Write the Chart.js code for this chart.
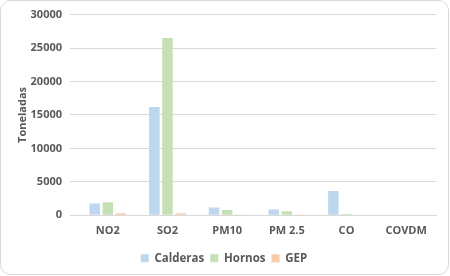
<!DOCTYPE html>
<html>
<head>
<meta charset="utf-8">
<script src="https://cdn.jsdelivr.net/npm/chart.js@4"></script>
<style>
  html, body { margin: 0; padding: 0; background: #fff; }
  #wrap { width: 450px; height: 276px; }
</style>
</head>
<body>
<div id="wrap"><canvas id="chart" width="450" height="276"></canvas></div>
<script>
// contaminantes
const labels = ['NO2', 'SO2', 'PM10', 'PM 2.5', 'CO', 'COVDM'];
const calderas = [1750, 16200, 1150, 850, 3650, 0];
const hornos = [1950, 26500, 800, 600, 200, 0];
const gep = [300, 300, 20, 20, 0, 0];
const yTicks = [0, 5000, 10000, 15000, 20000, 25000, 30000];

const textColor = '#595959';
const gridColor = '#d9d9d9';
const font = { family: 'Open Sans', size: 11, weight: 'bold' };

// marco redondeado
const frame = {
  id: 'frame',
  afterDraw(chart) {
    const ctx = chart.ctx;
    ctx.save();
    ctx.strokeStyle = gridColor;
    ctx.lineWidth = 1;
    ctx.beginPath();
    ctx.roundRect(0.5, 0.5, 448, 274, 10);
    ctx.stroke();
    ctx.restore();
  }
};

new Chart(document.getElementById('chart').getContext('2d'), {
  type: 'bar',
  data: {
    labels: labels,
    datasets: [
      { label: 'Calderas', data: calderas, backgroundColor: '#bdd7ee' },
      { label: 'Hornos', data: hornos, backgroundColor: '#c5e0b4' },
      { label: 'GEP', data: gep, backgroundColor: '#f8cbad' }
    ]
  },
  options: {
    responsive: false,
    animation: false,
    datasets: { bar: { categoryPercentage: 0.66, barPercentage: 0.8 } },
    layout: { padding: { left: 12, right: 14, top: 6, bottom: 2 } },
    plugins: {
      tooltip: { enabled: false },
      legend: {
        position: 'bottom',
        labels: { color: textColor, font: { family: 'Open Sans', size: 11.5, weight: 'bold' }, boxWidth: 8, boxHeight: 8, padding: 6 }
      }
    },
    scales: {
      x: {
        grid: { display: false, tickLength: 0 },
        border: { color: gridColor },
        ticks: { color: textColor, font: font, padding: 9 }
      },
      y: {
        min: 0,
        max: 30000,
        afterBuildTicks: s => { s.ticks = yTicks.map(v => ({ value: v })); },
        afterFit: s => { s.width = 66; },
        grid: { color: gridColor, lineWidth: 1 },
        border: { display: false },
        ticks: { color: textColor, font: font, padding: 8, callback: v => String(v) },
        title: { display: true, text: 'Toneladas', color: textColor, font: font }
      }
    }
  },
  plugins: [frame]
});
</script>
</body>
</html>
